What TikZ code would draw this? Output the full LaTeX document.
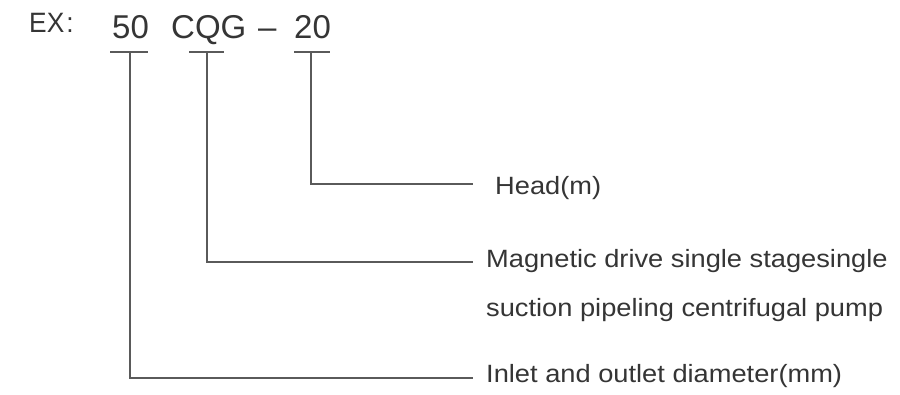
\documentclass[tikz,border=0pt]{standalone}
\usepackage{fontspec}
\setmainfont{Liberation Sans}
\newfontfamily\labfont[FakeStretch=1.09]{Liberation Sans}
\newfontfamily\exfont[FakeStretch=0.94]{Liberation Sans}
\definecolor{txt}{HTML}{353535}
\definecolor{ln}{HTML}{5A5A5A}
\begin{document}
\begin{tikzpicture}[x=1pt,y=-1pt,
  conn/.style={draw=ln,line width=1.6pt},
  code/.style={font=\fontsize{33}{38}\selectfont,text=txt,inner sep=0pt,anchor=base west},
  lab/.style={font=\labfont\fontsize{25}{30}\selectfont,text=txt,inner sep=0pt,anchor=base west}]
\useasboundingbox[fill=white] (0,0) rectangle (900,395);
% code line
\node[code,font=\exfont\fontsize{28}{32}\selectfont] (ex) at (29,33) {EX\kern2pt:};
\node[code] (n50) at (112,39) {50};
\node[code] (cqg) at (171,39) {CQG};
\node[code] (dash) at (258,39) {–};
\node[code] (n20) at (294,39) {20};
% underline marks
\coordinate (u50) at (130,52);
\coordinate (ucqg) at (207,52);
\coordinate (u20) at (311,52);
\draw[conn] ([xshift=-20pt]u50) -- ([xshift=18pt]u50);
\draw[conn] ([xshift=-18pt]ucqg) -- ([xshift=17pt]ucqg);
\draw[conn] ([xshift=-17pt]u20) -- ([xshift=19pt]u20);
% labels
\node[lab] (head) at (495,195) {Head(m)};
\node[lab] (mag1) at (486,268) {Magnetic drive single stagesingle};
\node[lab] (mag2) at (486,317) {suction pipeling centrifugal pump};
\node[lab] (inlet) at (486,383) {Inlet and outlet diameter(mm)};
% connectors
\draw[conn] (u20) |- ([shift={(-22,-11)}]head.base west);
\draw[conn] (ucqg) |- ([shift={(-13,-6)}]mag1.base west);
\draw[conn] (u50) |- ([shift={(-13,-5)}]inlet.base west);
\end{tikzpicture}
\end{document}
